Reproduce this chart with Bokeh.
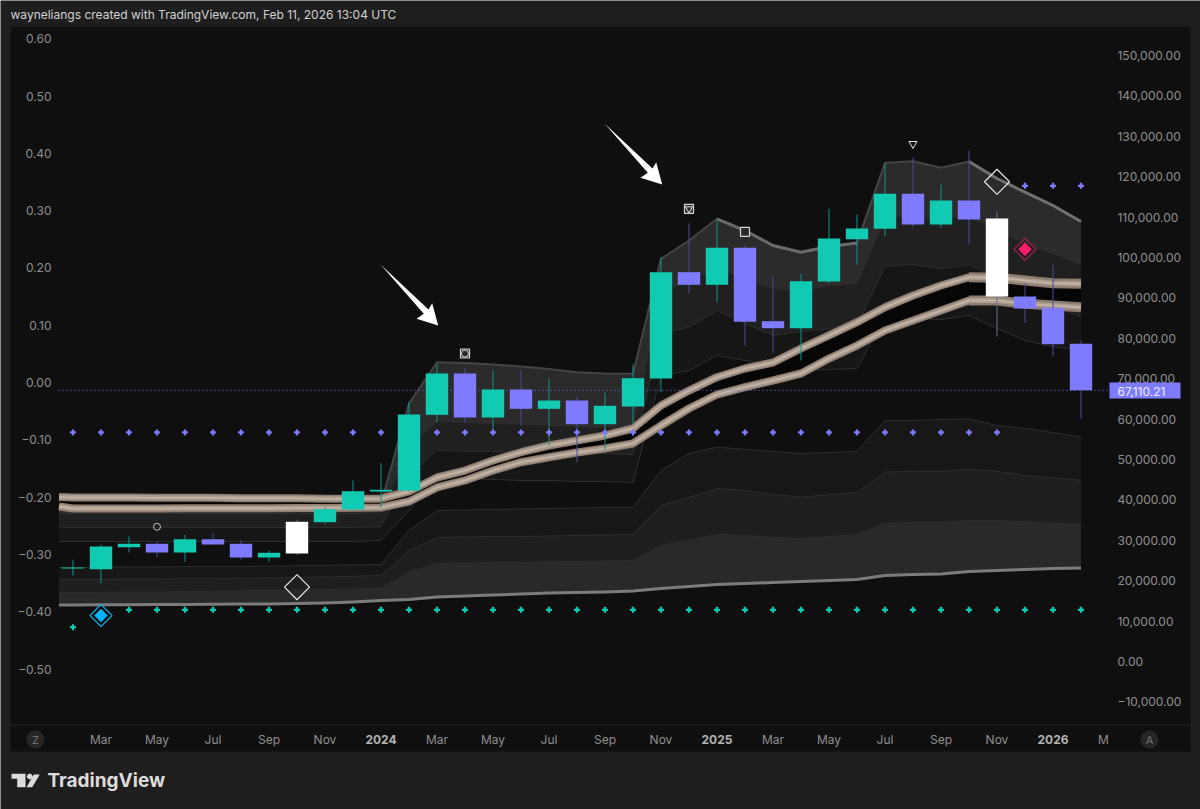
from math import cos, pi, sin

from bokeh.embed import file_html
from bokeh.models import (BoxAnnotation, FixedTicker, Label, LinearAxis,
                          PolyAnnotation, Range1d)
from bokeh.plotting import figure
from bokeh.resources import INLINE

FONT = "Inter"
PAGE_BG = "#1e1e1e"
PANE_BG = "#0f0f0f"
GREEN = "#10cbb2"
PURPLE = "#7f7bff"
AXIS_TXT = "#8f8f8f"

# monthly candles, Feb 2023 to Feb 2026 (x = months since Feb 2023)
months = list(range(37))
kinds = ["g", "g", "g", "p", "g", "p", "p", "g", "w", "g", "g", "g",
         "g", "g", "p", "g", "p", "g", "p", "g", "g", "g", "p", "g",
         "p", "p", "g", "g", "g", "g", "p", "g", "p", "w", "p", "p", "p"]
body_top = [23270, 28463, 29131, 29131, 30269, 30269, 29131, 26903, 34576, 37694, 42149, 42496,
            61133, 71280, 71280, 67320, 67320, 64598, 64598, 63286, 70117, 96352, 96352, 102391,
            102391, 84224, 94124, 104693, 107168, 115756, 115756, 114098, 114098, 109643, 90338, 87541, 78631]
body_bot = [23010, 22844, 28289, 26978, 26978, 28958, 25740, 25740, 26730, 34477, 37620, 42075,
            42323, 61058, 60390, 60390, 62543, 62543, 58732, 58732, 63113, 70043, 93233, 93233,
            84076, 82492, 82492, 94050, 104519, 107093, 108158, 108158, 109395, 90338, 87368, 78532, 67110]
highs = [25171, 28958, 30938, 29774, 31358, 31754, 29948, 27473, 35071, 38115, 44798, 49079,
         64177, 73681, 72592, 72023, 72023, 69968, 65414, 66503, 73508, 100064, 108479, 109148,
         102960, 95114, 95956, 112043, 110633, 123329, 124662, 118058, 126473, 111375, 93481, 98084, 79448]
lows = [21285, 19379, 26978, 25814, 24676, 28958, 25171, 24676, 26408, 34081, 37546, 38041,
        42075, 59227, 59078, 56356, 58410, 53460, 49327, 52396, 58658, 66652, 91154, 88927,
        78210, 76403, 74498, 93481, 98258, 105262, 107489, 107341, 103381, 80438, 83828, 75488, 60068]
last_price = 67110.21

# indicator lines start half a month before the first candle, at the pane edge
line_x = [-0.5] + months
band_t1 = [40600, 40100, 39100] + [38900] * 9 + [39100, 63850, 74080, 73880, 73500, 73000, 72400, 71600, 71300, 71200,
           99670, 104200, 109570, 106670, 102960, 101300, 102700, 103600,
           123430, 123820, 122200, 123750, 119540, 116150, 112860, 108900]
band_t2 = [36630] * 12 + [36880, 53460, 59400, 59150, 58900, 58780, 58530, 58160, 57900, 57670,
           91400, 94300, 97270, 94800, 92300, 91600, 93060, 93560,
           109960, 110140, 109720, 109960, 106670, 103380, 100980, 98260]
band_t3 = [33170] * 12 + [33410, 46040, 52220, 52100, 51980, 51850, 51730, 51600, 51480, 51230,
           81180, 82740, 86870, 83660, 80690, 81680, 82420, 82910,
           97840, 98260, 97190, 98180, 95110, 91400, 88110, 85210]
band_t4 = [29700] * 12 + [29950, 37370, 45290, 45290, 45050, 44800, 44800, 44550, 44550, 44300,
           70790, 72020, 75740, 74500, 73260, 72020, 72270, 72520,
           85210, 84890, 84650, 85640, 82420, 79450, 77960, 76970]
ribbon_1 = [40700, 40600, 40600, 40600, 40500, 40500, 40500, 40400, 40400, 40400, 40300, 40300, 40300,
            42080, 45540, 47270, 49750, 51800, 53460, 54700, 55940, 57670,
            63360, 67070, 70360, 72520, 74000, 77470, 80690, 83980,
            87690, 90590, 93060, 95110, 94970, 94300, 93630, 93480]
ribbon_2 = [38360, 37870, 37870, 37870, 37870, 37900, 37900, 37950, 37950, 38000, 38000, 38050, 38110,
            39600, 43070, 44800, 47270, 49330, 50560, 51730, 52720, 53960,
            58410, 62620, 66080, 67890, 69550, 71280, 74990, 78210,
            81920, 84400, 86870, 89350, 89350, 88530, 88110, 87690]
band_b1 = [23270, 23270, 23270, 23400, 23400, 23500, 23500, 23500, 23600, 23700, 23800, 23900, 24010,
           32420, 37370, 37500, 37620, 37740, 37870, 37990, 38110, 38110,
           47270, 51480, 53040, 52470, 51980, 51480, 51730, 51980,
           59650, 59650, 59900, 60020, 58410, 57670, 56680, 55520]
band_b2 = [20300, 20300, 20300, 20400, 20400, 20500, 20500, 20600, 20700, 20800, 20900, 21100, 21290,
           27470, 30690, 30810, 30940, 30940, 31060, 31190, 31310, 31430,
           38610, 40590, 42820, 42320, 41330, 40660, 41330, 41830,
           46850, 47100, 47030, 47590, 47100, 46040, 45470, 44800]
band_b3 = [17080, 17080, 17100, 17200, 17200, 17300, 17400, 17500, 17600, 17700, 17800, 17900, 18070,
           22030, 24260, 24380, 24500, 24500, 24630, 24750, 24870, 25000,
           28710, 29950, 31430, 31190, 30690, 30370, 30940, 31430,
           34230, 34400, 34400, 34900, 34900, 34580, 34230, 33910]
band_b0 = [13980, 13980, 14030, 14060, 14110, 14110, 14160, 14210, 14260, 14360, 14480, 14730, 15100,
           15350, 15960, 16210, 16460, 16710, 16950, 17080, 17200, 17450,
           18070, 18560, 19060, 19300, 19550, 19800, 20050, 20300,
           21290, 21530, 21660, 22280, 22520, 22770, 23020, 23140]

# signal marks
plus_low_x = list(range(2, 37))
plus_low_y = 12800
plus_first_x = [0]
plus_first_y = [8490]
plus_mid_x = list(range(0, 34))
plus_mid_y = 56680
plus_high_x = [34, 35, 36]
plus_high_y = 117730
blue_x, blue_y = [1], [11385]
pink_x, pink_y = [34], [102040]
white_diamond_x, white_diamond_y = [8, 33], [18390, 118730]
ring_x, ring_y = [3], [33340]
box_x, box_y = [14, 22, 24], [76230, 112040, 106350]
box_ring_x, box_ring_y = [14], [76230]
box_tri_x, box_tri_y = [22], [112040]
tri_x, tri_y = [30], [128130]

# axes
price_ticks = [150000, 140000, 130000, 120000, 110000, 100000, 90000, 80000,
               70000, 60000, 50000, 40000, 30000, 20000, 10000, 0, -10000]
price_labels = ["150,000.00", "140,000.00", "130,000.00", "120,000.00", "110,000.00", "100,000.00",
                "90,000.00", "80,000.00", "70,000.00", "60,000.00", "50,000.00", "40,000.00",
                "30,000.00", "20,000.00", "10,000.00", "0.00", "\u221210,000.00"]
osc_ticks = [0.6, 0.5, 0.4, 0.3, 0.2, 0.1, 0, -0.1, -0.2, -0.3, -0.4, -0.5]
osc_labels = ["0.60", "0.50", "0.40", "0.30", "0.20", "0.10", "0.00", "\u22120.10",
              "\u22120.20", "\u22120.30", "\u22120.40", "\u22120.50"]
month_ticks = [1, 3, 5, 7, 9, 13, 15, 17, 19, 21, 25, 27, 29, 31, 33]
month_labels = ["Mar", "May", "Jul", "Sep", "Nov", "Mar", "May", "Jul", "Sep", "Nov",
                "Mar", "May", "Jul", "Sep", "Nov"]
year_ticks = [11, 23, 35]
year_labels = ["2024", "2025", "2026"]

# the frame fills the page, so the furniture round the pane can be drawn too;
# the axes sit at fixed locations on the pane edges
x_pane_left, x_pane_right = -0.518, 36.41
price_pane_bottom = -15592

p = figure(width=1200, height=809, output_backend="svg", toolbar_location=None,
           x_range=Range1d(-2.589, 40.268), y_range=Range1d(-36630, 163600),
           y_axis_location="right", background_fill_color=PAGE_BG,
           border_fill_color=PAGE_BG, outline_line_color=None, min_border=0)
p.grid.visible = False


def style_axis(ax, standoff):
    ax.axis_line_color = None
    ax.major_tick_line_color = None
    ax.minor_tick_line_color = None
    ax.major_tick_out = 0
    ax.major_tick_in = 0
    ax.minor_tick_out = 0
    ax.major_label_standoff = standoff
    ax.major_label_text_color = AXIS_TXT
    ax.major_label_text_font = FONT
    ax.major_label_text_font_size = "12px"


p.yaxis.ticker = FixedTicker(ticks=price_ticks)
p.yaxis.major_label_overrides = dict(zip(price_ticks, price_labels))
p.yaxis.fixed_location = x_pane_right
style_axis(p.yaxis[0], 25)

p.extra_y_ranges["osc"] = Range1d(-0.7452, 0.6667)
left_axis = LinearAxis(y_range_name="osc", ticker=FixedTicker(ticks=osc_ticks),
                       major_label_overrides=dict(zip(osc_ticks, osc_labels)),
                       fixed_location=x_pane_left)
style_axis(left_axis, 7)
p.add_layout(left_axis, "left")

p.xaxis.ticker = FixedTicker(ticks=month_ticks)
p.xaxis.major_label_overrides = dict(zip(month_ticks, month_labels))
p.xaxis.fixed_location = price_pane_bottom
style_axis(p.xaxis[0], 8)


# page furniture, in page pixels
def chrome_box(left, top, right, bottom, color, level="underlay"):
    p.add_layout(BoxAnnotation(left=left, right=right, top=top, bottom=bottom,
                               left_units="canvas", right_units="canvas",
                               top_units="canvas", bottom_units="canvas",
                               fill_color=color, fill_alpha=1, line_color=None, level=level))


def chrome_poly(xs, ys, color, level="annotation"):
    p.add_layout(PolyAnnotation(xs=xs, ys=ys, xs_units="canvas", ys_units="canvas",
                                fill_color=color, fill_alpha=1, line_color=None, level=level))


def chrome_text(x, y, text, color, size, style="normal", align="left"):
    p.add_layout(Label(x=x, y=y, x_units="canvas", y_units="canvas", text=text,
                       text_color=color, text_font=FONT, text_font_size=size,
                       text_font_style=style, text_align=align, text_baseline="middle"))


chrome_box(10, 26, 1190, 751, PANE_BG)
chrome_box(10, 724, 1190, 725, "#262626")

# bands
p.varea(line_x, band_t1, band_t2, fill_color="#2b2b2b")
p.varea(line_x, band_t2, band_t3, fill_color="#202020")
p.varea(line_x, band_t3, band_t4, fill_color="#161616")
p.varea(line_x, band_b1, band_b2, fill_color="#171717")
p.varea(line_x, band_b2, band_b3, fill_color="#1f1f1f")
p.varea(line_x, band_b3, band_b0, fill_color="#292929")
for band in [band_t2, band_t3, band_t4, band_b1, band_b2, band_b3]:
    p.line(line_x, band, line_color="#2e2e2e", line_width=1)
p.line(line_x, band_t1, line_color="#444444", line_width=2, line_join="round")
p.line(line_x[24:30], band_t1[24:30], line_color="#6a6a6a", line_width=3, line_join="round")
p.line(line_x[33:], band_t1[33:], line_color="#707070", line_width=3, line_join="round")
p.line(line_x, band_b0, line_color="#7c7c7c", line_width=3, line_join="round")

# ribbons, wider over the last months
p.varea(line_x, ribbon_1, ribbon_2, fill_color="#060606")
for ribbon in [ribbon_1, ribbon_2]:
    p.line(line_x[33:], ribbon[33:], line_color="#8d7e71", line_width=10, line_join="round")
    p.line(line_x, ribbon, line_color="#8d7e71", line_width=8, line_join="round")
    p.line(line_x, ribbon, line_color="#ad9d8e", line_width=5, line_join="round")
    p.line(line_x, ribbon, line_color="#c4b6a9", line_width=1.5, line_join="round")

# last price line runs from the pane edge to the tag
p.line([x_pane_left, 37.12], [last_price, last_price], line_color=PURPLE, line_width=1, line_dash="1 3")

# candles
body_colors = {"g": GREEN, "p": PURPLE, "w": "#ffffff"}
wick_colors = {"g": "#1a9184", "p": "#4c4a9a", "w": "#6f6f8f"}
p.segment(months, highs, months, lows, line_color=[wick_colors[k] for k in kinds], line_width=1)
p.scatter(plus_mid_x, [plus_mid_y] * len(plus_mid_x), marker="plus", size=6, color=PURPLE, line_color=None)
p.vbar(months, 0.8, body_top, body_bot, fill_color=[body_colors[k] for k in kinds], line_color=None)

# signal marks
p.scatter(plus_high_x, [plus_high_y] * len(plus_high_x), marker="plus", size=6, color=PURPLE, line_color=None)
p.scatter(plus_low_x, [plus_low_y] * len(plus_low_x), marker="plus", size=6, color=GREEN, line_color=None)
p.scatter(plus_first_x, plus_first_y, marker="plus", size=6, color=GREEN, line_color=None)
p.scatter(blue_x, blue_y, marker="square", angle=pi / 4, size=15.6, fill_color=None, line_color="#12a5d8", line_width=1.2)
p.scatter(blue_x, blue_y, marker="square", angle=pi / 4, size=9.5, fill_color="#00b4ff", line_color=None)
p.scatter(pink_x, pink_y, marker="square", angle=pi / 4, size=15.6, fill_color=None, line_color="#8c2148", line_width=1.5)
p.scatter(pink_x, pink_y, marker="square", angle=pi / 4, size=9.5, fill_color="#ff1a6c", line_color=None)
p.scatter(white_diamond_x, white_diamond_y, marker="square", angle=pi / 4, size=17.7,
          fill_color=None, line_color="#e4e4e4", line_width=1.2)
p.scatter(ring_x, ring_y, marker="circle", size=7, fill_color=None, line_color="#c4c4c4", line_width=1)
p.scatter(box_x, box_y, marker="square", size=9, fill_color="#2a2a2a", line_color="#d6d6d6", line_width=1.2)
p.scatter(box_ring_x, box_ring_y, marker="circle", size=7, fill_color=None, line_color="#d6d6d6", line_width=1)
p.scatter(box_tri_x, box_tri_y, marker="inverted_triangle", size=7, fill_color=None, line_color="#e6e6e6", line_width=1)
p.scatter(tri_x, tri_y, marker="inverted_triangle", size=8, fill_color=None, line_color="#e6e6e6", line_width=1)

# hand drawn arrows
chrome_poly([380, 428, 431.7, 437.7, 416, 423.3], [264, 309, 302.7, 325, 318.3, 313.3], "#ffffff")
chrome_poly([604, 652, 655.7, 661.7, 640, 647.3], [123, 168, 161.7, 184, 177.3, 172.3], "#ffffff")

# last price tag
chrome_box(1109, 382, 1180, 398, PURPLE, level="annotation")
chrome_text(1117, 390.5, f"{last_price:,.2f}", "#ecebff", "12px")

# bold years and clipped month on the time axis
for tick, label in zip(year_ticks, year_labels):
    p.add_layout(Label(x=tick, x_units="data", y=739, y_units="canvas", text=label,
                       text_color="#b4b4b4", text_font=FONT, text_font_size="12px",
                       text_font_style="bold", text_align="center", text_baseline="middle"))
chrome_text(1103, 739, "M", AXIS_TXT, "12px", align="center")

# Z and A buttons
for cx, letter in [(35, "Z"), (1149, "A")]:
    n = 24
    chrome_poly([cx + 9 * cos(2 * pi * k / n) for k in range(n)],
                [739 + 9 * sin(2 * pi * k / n) for k in range(n)], "#262626")
    chrome_text(cx, 739, letter, "#6e6e6e", "11px", align="center")

# header and logo
chrome_text(10, 14, "wayneliangs created with TradingView.com, Feb 11, 2026 13:04 UTC", "#d2d2d2", "12px")
chrome_poly([11, 25, 25, 16.7, 16.7, 11], [773.3, 773.3, 786.7, 786.7, 778.3, 778.3], "#dcdcdc")
chrome_poly([26, 31.7, 39.3, 33.3], [786.7, 786.7, 774, 774], "#dcdcdc")
chrome_poly([29.3 + 3 * dx for dx in (1, .7, 0, -.7, -1, -.7, 0, .7)],
            [776 + 3 * dy for dy in (0, .7, 1, .7, 0, -.7, -1, -.7)], "#dcdcdc")
chrome_text(47, 780, "TradingView", "#dcdcdc", "19px", style="bold")

open("out.html", "w").write(file_html(p, INLINE))
